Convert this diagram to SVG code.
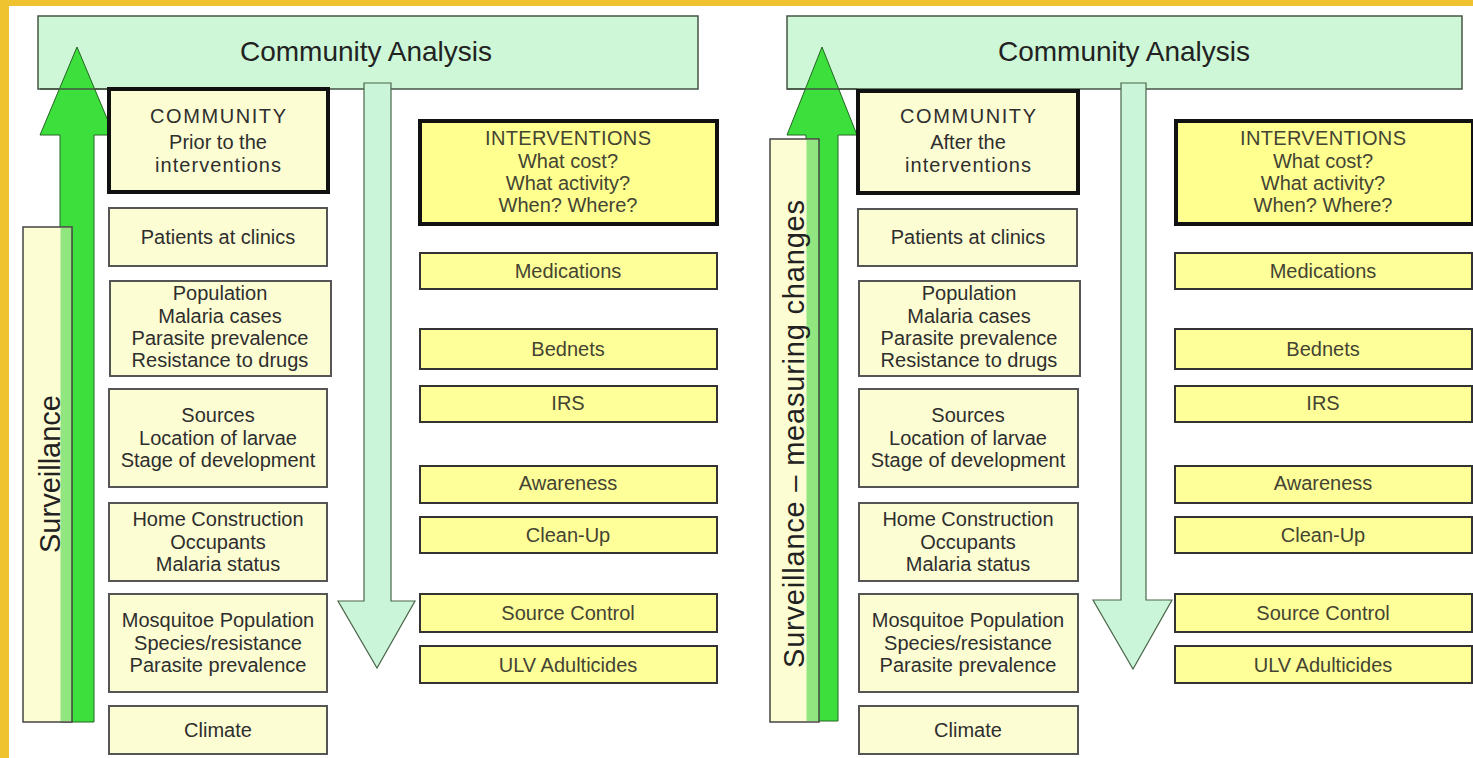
<svg xmlns="http://www.w3.org/2000/svg" width="1473" height="758" viewBox="0 0 1473 758">
<style>
.t{font-family:"Liberation Sans",Arial,sans-serif;font-size:20px;text-anchor:middle;fill:#2e2e2e}
.ti{font-family:"Liberation Sans",Arial,sans-serif;font-size:20px;text-anchor:middle;fill:#444433}
.big{font-family:"Liberation Sans",Arial,sans-serif;font-size:28px;text-anchor:middle;fill:#222}
.vert{font-family:"Liberation Sans",Arial,sans-serif;font-size:29px;text-anchor:middle;fill:#222}
.ca{fill:#cdf7d6;stroke:#445544;stroke-width:1.5}
.cbox{fill:#fdfdd3;stroke:#555;stroke-width:2}
.chead{fill:#fdfdd3;stroke:#111;stroke-width:4}
.ibox{fill:#ffff99;stroke:#333;stroke-width:2}
.ihead{fill:#ffff90;stroke:#111;stroke-width:4}
.up{fill:#3ddf3d;stroke:#226622;stroke-width:1}
.down{fill:#cbf5d9;stroke:#4a664a;stroke-width:1.2}
.surv{fill:#fdfdd3}
.survo{fill:none;stroke:#444;stroke-width:1.5}
.strip{fill:#92e680}
</style>
<rect x="0" y="0" width="1473" height="758" fill="#efc22f"/>
<rect x="9" y="6" width="1464" height="752" fill="#ffffff"/>

<g id="ca-left"><rect class="ca" x="38" y="16" width="660" height="73"/><text class="big" x="366" y="61">Community Analysis</text></g>
<g id="ca-right"><rect class="ca" x="787" y="16" width="675" height="73"/><text class="big" x="1124" y="61">Community Analysis</text></g>

<g id="connectors">
<polygon class="up" points="60,722 60,135 40,135 77,47 114,135 94,135 94,722"/>
<polygon class="up" points="806,721 806,135 787,135 822,47 857,135 838,135 838,721"/>
<line x1="40" y1="89" x2="114" y2="89" stroke="#445544" stroke-width="1.5"/>
<line x1="787" y1="89" x2="857" y2="89" stroke="#445544" stroke-width="1.5"/>
<polygon class="down" points="364,83 391,83 391,601 415,601 377,668 338,601 364,601"/>
<polygon class="down" points="1121,83 1146,83 1146,600 1172,600 1133,669 1093,600 1121,600"/>
</g>

<g id="surveillance-left">
<rect class="surv" x="23" y="227" width="49" height="495"/>
<rect class="strip" x="60.5" y="228" width="11.5" height="493"/>
<rect class="survo" x="23" y="227" width="49" height="495"/>
<text class="vert" transform="translate(60,474) rotate(-90)" textLength="158" lengthAdjust="spacing">Surveillance</text>
</g>
<g id="surveillance-right">
<rect class="surv" x="770" y="139" width="49" height="583"/>
<rect class="strip" x="806.5" y="140" width="12.5" height="581"/>
<rect class="survo" x="770" y="139" width="49" height="583"/>
<text class="vert" transform="translate(804,434) rotate(-90)" textLength="468" lengthAdjust="spacing">Surveillance – measuring changes</text>
</g>

<g id="community-prior"><rect class="chead" x="109" y="89" width="219" height="103"/>
<text class="t" x="218" y="123" textLength="136" lengthAdjust="spacing">COMMUNITY</text><text class="t" x="218" y="149">Prior to the</text><text class="t" x="218" y="172" textLength="126" lengthAdjust="spacing">interventions</text></g>
<g id="patients-left"><rect class="cbox" x="109" y="208" width="218" height="58"/><text class="t" x="218" y="244">Patients at clinics</text></g>
<g id="population-left"><rect class="cbox" x="110" y="281" width="221" height="95"/>
<text class="t" x="220" y="300">Population</text><text class="t" x="220" y="323">Malaria cases</text><text class="t" x="220" y="345">Parasite prevalence</text><text class="t" x="220" y="367">Resistance to drugs</text></g>
<g id="sources-left"><rect class="cbox" x="109" y="389" width="218" height="98"/>
<text class="t" x="218" y="422">Sources</text><text class="t" x="218" y="445">Location of larvae</text><text class="t" x="218" y="467">Stage of development</text></g>
<g id="home-left"><rect class="cbox" x="109" y="503" width="218" height="78"/>
<text class="t" x="218" y="526">Home Construction</text><text class="t" x="218" y="549">Occupants</text><text class="t" x="218" y="571">Malaria status</text></g>
<g id="mosquito-left"><rect class="cbox" x="109" y="594" width="218" height="98"/>
<text class="t" x="218" y="627">Mosquitoe Population</text><text class="t" x="218" y="650">Species/resistance</text><text class="t" x="218" y="672">Parasite prevalence</text></g>
<g id="climate-left"><rect class="cbox" x="109" y="706" width="218" height="48"/><text class="t" x="218" y="737">Climate</text></g>

<g id="interventions-left"><rect class="ihead" x="420" y="121" width="297" height="103"/>
<text class="ti" x="568" y="145" textLength="166" lengthAdjust="spacing">INTERVENTIONS</text><text class="ti" x="568" y="168">What cost?</text><text class="ti" x="568" y="190">What activity?</text><text class="ti" x="568" y="212">When? Where?</text></g>
<g id="medications-left"><rect class="ibox" x="420" y="253" width="297" height="36"/><text class="ti" x="568" y="278">Medications</text></g>
<g id="bednets-left"><rect class="ibox" x="420" y="329" width="297" height="40"/><text class="ti" x="568" y="356">Bednets</text></g>
<g id="irs-left"><rect class="ibox" x="420" y="386" width="297" height="36"/><text class="ti" x="568" y="410">IRS</text></g>
<g id="awareness-left"><rect class="ibox" x="420" y="466" width="297" height="37"/><text class="ti" x="568" y="490">Awareness</text></g>
<g id="cleanup-left"><rect class="ibox" x="420" y="517" width="297" height="36"/><text class="ti" x="568" y="542">Clean-Up</text></g>
<g id="source-control-left"><rect class="ibox" x="420" y="594" width="297" height="38"/><text class="ti" x="568" y="620">Source Control</text></g>
<g id="ulv-left"><rect class="ibox" x="420" y="646" width="297" height="37"/><text class="ti" x="568" y="672">ULV Adulticides</text></g>

<g id="community-after"><rect class="chead" x="858" y="91" width="220" height="102"/>
<text class="t" x="968" y="123" textLength="136" lengthAdjust="spacing">COMMUNITY</text><text class="t" x="968" y="149">After the</text><text class="t" x="968" y="172" textLength="126" lengthAdjust="spacing">interventions</text></g>
<g id="patients-right"><rect class="cbox" x="858" y="209" width="219" height="57"/><text class="t" x="968" y="244">Patients at clinics</text></g>
<g id="population-right"><rect class="cbox" x="859" y="281" width="221" height="95"/>
<text class="t" x="969" y="300">Population</text><text class="t" x="969" y="323">Malaria cases</text><text class="t" x="969" y="345">Parasite prevalence</text><text class="t" x="969" y="367">Resistance to drugs</text></g>
<g id="sources-right"><rect class="cbox" x="859" y="389" width="219" height="98"/>
<text class="t" x="968" y="422">Sources</text><text class="t" x="968" y="445">Location of larvae</text><text class="t" x="968" y="467">Stage of development</text></g>
<g id="home-right"><rect class="cbox" x="859" y="503" width="219" height="78"/>
<text class="t" x="968" y="526">Home Construction</text><text class="t" x="968" y="549">Occupants</text><text class="t" x="968" y="571">Malaria status</text></g>
<g id="mosquito-right"><rect class="cbox" x="859" y="594" width="219" height="98"/>
<text class="t" x="968" y="627">Mosquitoe Population</text><text class="t" x="968" y="650">Species/resistance</text><text class="t" x="968" y="672">Parasite prevalence</text></g>
<g id="climate-right"><rect class="cbox" x="859" y="706" width="219" height="48"/><text class="t" x="968" y="737">Climate</text></g>

<g id="interventions-right"><rect class="ihead" x="1176" y="121" width="297" height="103"/>
<text class="ti" x="1323" y="145" textLength="166" lengthAdjust="spacing">INTERVENTIONS</text><text class="ti" x="1323" y="168">What cost?</text><text class="ti" x="1323" y="190">What activity?</text><text class="ti" x="1323" y="212">When? Where?</text></g>
<g id="medications-right"><rect class="ibox" x="1175" y="253" width="297" height="36"/><text class="ti" x="1323" y="278">Medications</text></g>
<g id="bednets-right"><rect class="ibox" x="1175" y="329" width="297" height="40"/><text class="ti" x="1323" y="356">Bednets</text></g>
<g id="irs-right"><rect class="ibox" x="1175" y="386" width="297" height="36"/><text class="ti" x="1323" y="410">IRS</text></g>
<g id="awareness-right"><rect class="ibox" x="1175" y="466" width="297" height="37"/><text class="ti" x="1323" y="490">Awareness</text></g>
<g id="cleanup-right"><rect class="ibox" x="1175" y="517" width="297" height="36"/><text class="ti" x="1323" y="542">Clean-Up</text></g>
<g id="source-control-right"><rect class="ibox" x="1175" y="594" width="297" height="38"/><text class="ti" x="1323" y="620">Source Control</text></g>
<g id="ulv-right"><rect class="ibox" x="1175" y="646" width="297" height="37"/><text class="ti" x="1323" y="672">ULV Adulticides</text></g>
</svg>
